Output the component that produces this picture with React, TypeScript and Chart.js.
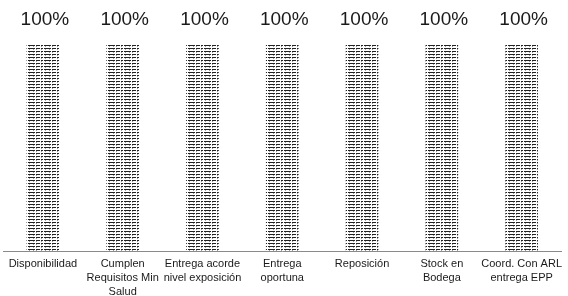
import React, { useEffect, useRef } from "react";
import { Chart, registerables } from "chart.js";

Chart.register(...registerables);

const categories: (string | string[])[] = [
  "Disponibilidad",
  ["Cumplen", "Requisitos Min", "Salud"],
  ["Entrega acorde", "nivel exposición"],
  ["Entrega", "oportuna"],
  "Reposición",
  ["Stock en", "Bodega"],
  ["Coord. Con ARL", "entrega EPP"],
];
const values = [100, 100, 100, 100, 100, 100, 100];
const valueLabels = ["100%", "100%", "100%", "100%", "100%", "100%", "100%"];

function makePattern(): CanvasPattern | string {
  const c = document.createElement("canvas");
  c.width = 16;
  c.height = 3;
  const g = c.getContext("2d");
  if (!g) return "#888";
  g.fillStyle = "#ffffff";
  g.fillRect(0, 0, 16, 3);
  g.fillStyle = "#222222";
  const row0 = [1, 1, 1, 0, 1, 1, 1, 1, 0, 1, 1, 0, 1, 1, 1, 1];
  row0.forEach((v, i) => { if (v) g.fillRect(i, 0, 1, 1); });
  g.fillStyle = "#9a9a9a";
  const row1 = [0, 1, 0, 0, 1, 0, 0, 0, 0, 1, 0, 0, 0, 1, 0, 0];
  row1.forEach((v, i) => { if (v) g.fillRect(i, 1, 1, 1); });
  return g.createPattern(c, "repeat") || "#888";
}

const valueLabelPlugin = {
  id: "valueLabels",
  afterDatasetsDraw(chart: any) {
    const ctx = chart.ctx;
    const meta = chart.getDatasetMeta(0);
    ctx.save();
    ctx.fillStyle = "#1a1a1a";
    ctx.font = "19px 'Liberation Sans'";
    ctx.textAlign = "center";
    ctx.textBaseline = "middle";
    meta.data.forEach((bar: any, i: number) => {
      ctx.fillText(valueLabels[i], bar.x + 2, bar.y - 24);
    });
    ctx.restore();
  },
};

export default function App() {
  const ref = useRef<HTMLCanvasElement>(null);
  useEffect(() => {
    if (!ref.current) return;
    const chart = new Chart(ref.current, {
      type: "bar",
      data: {
        labels: categories,
        datasets: [
          {
            data: values,
            backgroundColor: makePattern() as any,
            borderWidth: 0,
            barThickness: 32,
          },
        ],
      },
      options: {
        responsive: false,
        animation: false,
        layout: { padding: { top: 44, left: 3, right: 0, bottom: 0 } },
        plugins: { legend: { display: false }, tooltip: { enabled: false } },
        scales: {
          x: {
            grid: { display: false, drawTicks: false },
            border: { display: true, color: "#8a8a8a", dash: [1, 3], width: 1 },
            ticks: {
              color: "#1a1a1a",
              font: { family: "'Liberation Sans'", size: 11, lineHeight: 1.27 },
              padding: 6,
              maxRotation: 0,
              minRotation: 0,
              autoSkip: false,
            },
          },
          y: {
            display: false,
            min: 0,
            max: 100,
          },
        },
      },
      plugins: [valueLabelPlugin],
    });
    return () => chart.destroy();
  }, []);
  return (
    <div style={{ position: "absolute", left: 0, top: 0, width: 568, height: 296, overflow: "hidden", background: "#fff" }}>
      <canvas ref={ref} width={568} height={305} />
    </div>
  );
}
